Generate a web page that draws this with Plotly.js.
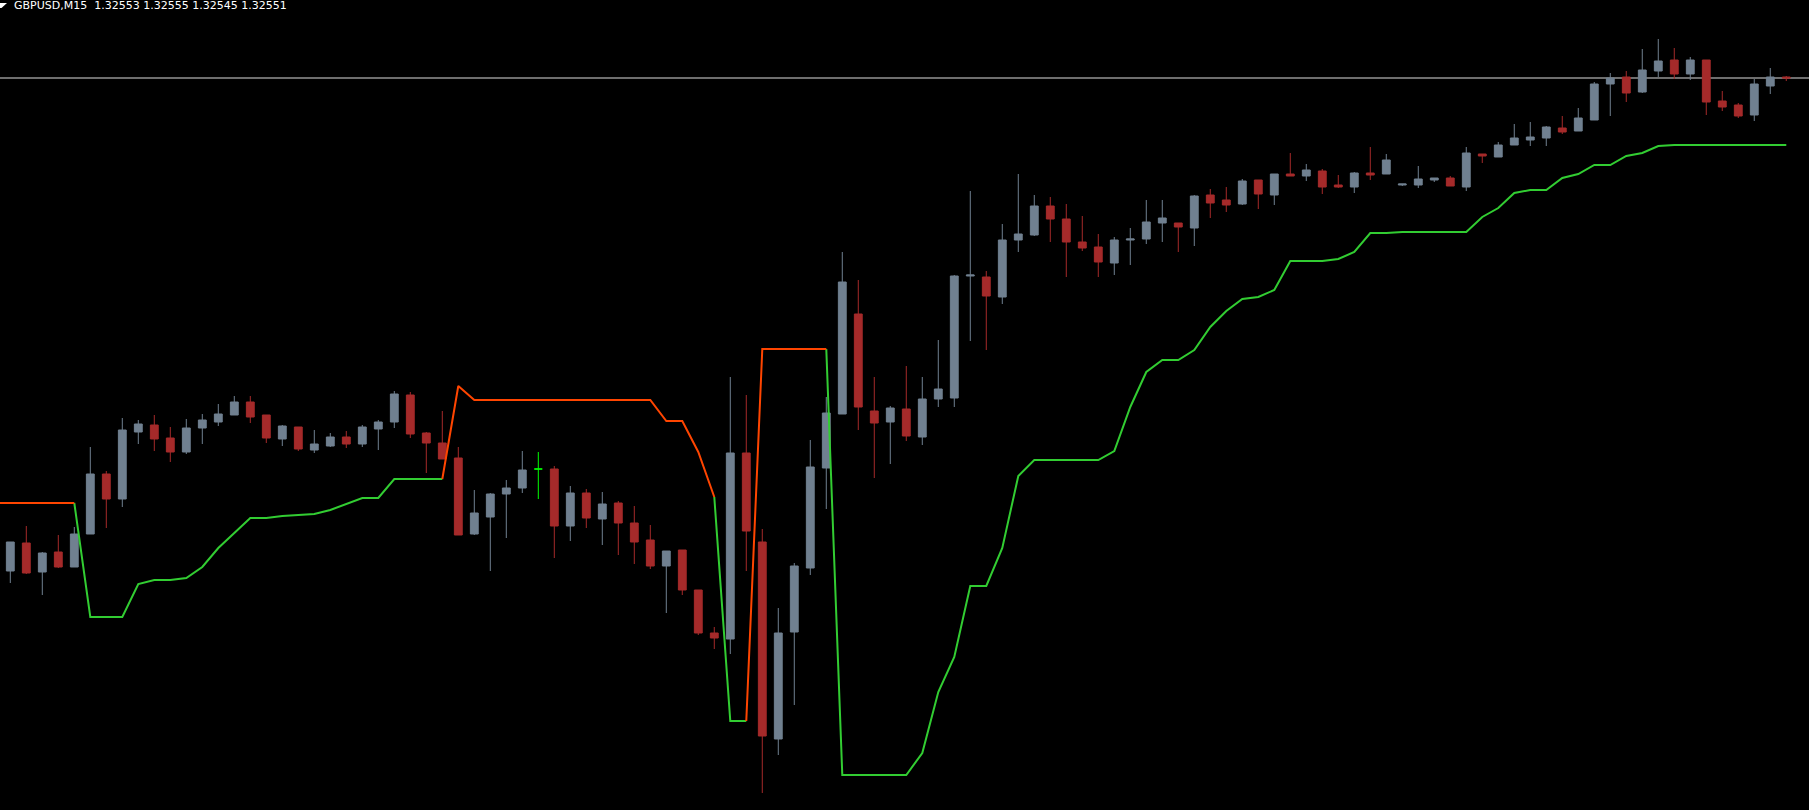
<!DOCTYPE html>
<html>
<head>
<meta charset="utf-8">
<script src="https://cdn.plot.ly/plotly-3.0.1.min.js"></script>
<style>
html,body{margin:0;padding:0;background:#000;overflow:hidden}
#chart{width:1809px;height:810px}
</style>
</head>
<body>
<div id="chart"></div>
<script>
const symbol = "GBPUSD";
const timeframe = "M15";

const open = [1.31565,1.31621,1.31563,1.31603,1.31573,1.31639,1.31759,1.31709,1.31843,1.31857,
1.31831,1.31803,1.31851,1.31863,1.31877,1.31903,1.31877,1.31829,1.31853,1.31807,
1.31815,1.31833,1.31819,1.31849,1.31863,1.31917,1.31841,1.31821,1.31791,1.31639,
1.31673,1.31719,1.31731,1.31769,1.31769,1.31655,1.31721,1.31669,1.31701,1.31661,
1.31627,1.31575,1.31607,1.31527,1.31441,1.31429,1.31801,1.31623,1.31229,1.31443,
1.31571,1.31771,1.31879,1.32079,1.31885,1.31863,1.31889,1.31833,1.31909,1.31911,
1.32155,1.32153,1.32113,1.32227,1.32237,1.32295,1.32269,1.32223,1.32213,1.32181,
1.32227,1.32229,1.32261,1.32261,1.32251,1.32317,1.32307,1.32299,1.32347,1.32317,
1.32359,1.32355,1.32365,1.32337,1.32333,1.32361,1.32359,1.32337,1.32337,1.32347,
1.32351,1.32333,1.32399,1.32393,1.32417,1.32427,1.32431,1.32451,1.32445,1.32467,
1.32539,1.32553,1.32523,1.32565,1.32587,1.32559,1.32587,1.32505,1.32497,1.32477,
1.32535,1.32553];

const high = [1.31623,1.31655,1.31603,1.31637,1.31653,1.31813,1.31765,1.31871,1.31867,1.31877,
1.31853,1.31869,1.31879,1.31899,1.31915,1.31915,1.31877,1.31857,1.31853,1.31847,
1.31841,1.31845,1.31857,1.31867,1.31925,1.31923,1.31843,1.31885,1.31813,1.31727,
1.31721,1.31747,1.31805,1.31803,1.31775,1.31735,1.31729,1.31723,1.31705,1.31695,
1.31657,1.31605,1.31607,1.31527,1.31453,1.31953,1.31917,1.31649,1.31491,1.31581,
1.31827,1.31913,1.32203,1.32147,1.31953,1.31895,1.31975,1.31953,1.32027,1.32157,
1.32325,1.32165,1.32259,1.32359,1.32317,1.32313,1.32299,1.32275,1.32239,1.32233,
1.32251,1.32307,1.32307,1.32261,1.32317,1.32329,1.32333,1.32349,1.32347,1.32359,
1.32401,1.32379,1.32369,1.32357,1.32363,1.32413,1.32399,1.32339,1.32375,1.32351,
1.32355,1.32413,1.32399,1.32423,1.32459,1.32463,1.32455,1.32475,1.32491,1.32543,
1.32561,1.32565,1.32609,1.32629,1.32611,1.32593,1.32587,1.32525,1.32501,1.32549,
1.32571,1.32555];

const low = [1.31541,1.31559,1.31517,1.31571,1.31573,1.31639,1.31651,1.31693,1.31819,1.31805,
1.31783,1.31799,1.31819,1.31855,1.31877,1.31861,1.31821,1.31815,1.31805,1.31801,
1.31813,1.31811,1.31813,1.31807,1.31851,1.31831,1.31761,1.31789,1.31637,1.31637,
1.31565,1.31631,1.31721,1.31709,1.31591,1.31625,1.31651,1.31617,1.31597,1.31579,
1.31569,1.31481,1.31517,1.31437,1.31409,1.31399,1.31565,1.31121,1.31197,1.31297,
1.31557,1.31689,1.31879,1.31847,1.31751,1.31779,1.31825,1.31817,1.31893,1.31893,
1.32025,1.32007,1.32099,1.32203,1.32235,1.32223,1.32153,1.32205,1.32153,1.32157,
1.32177,1.32219,1.32223,1.32203,1.32215,1.32271,1.32283,1.32297,1.32289,1.32297,
1.32355,1.32345,1.32319,1.32331,1.32321,1.32347,1.32359,1.32335,1.32331,1.32343,
1.32335,1.32325,1.32381,1.32393,1.32417,1.32415,1.32415,1.32439,1.32445,1.32467,
1.32475,1.32503,1.32521,1.32553,1.32549,1.32547,1.32477,1.32485,1.32471,1.32465,
1.32519,1.32545];

const close = [1.31623,1.31561,1.31601,1.31573,1.31639,1.31759,1.31709,1.31847,1.31859,1.31829,
1.31803,1.31851,1.31867,1.31879,1.31903,1.31873,1.31831,1.31855,1.31809,1.31819,
1.31833,1.31819,1.31853,1.31863,1.31919,1.31839,1.31821,1.31789,1.31637,1.31681,
1.31719,1.31731,1.31767,1.31769,1.31655,1.31721,1.31671,1.31699,1.31661,1.31623,
1.31575,1.31605,1.31527,1.31441,1.31431,1.31801,1.31645,1.31235,1.31441,1.31575,
1.31773,1.31881,1.32143,1.31893,1.31861,1.31891,1.31835,1.31909,1.31929,1.32155,
1.32157,1.32115,1.32227,1.32239,1.32295,1.32269,1.32223,1.32211,1.32183,1.32227,
1.32229,1.32263,1.32271,1.32253,1.32315,1.32301,1.32297,1.32345,1.32319,1.32359,
1.32355,1.32367,1.32333,1.32333,1.32361,1.32357,1.32387,1.32339,1.32349,1.32351,
1.32335,1.32401,1.32395,1.32417,1.32431,1.32433,1.32453,1.32443,1.32471,1.32539,
1.32551,1.32521,1.32567,1.32585,1.32559,1.32587,1.32503,1.32493,1.32475,1.32539,
1.32553,1.32551];

// Trailing stop line: up-trend buffer (green) and down-trend buffer (orange)
const trendUp = [null,null,null,null,1.31701,1.31473,1.31473,1.31473,1.31539,1.31547,
1.31547,1.31551,1.31573,1.31611,1.31641,1.31671,1.31671,1.31675,1.31677,1.31679,
1.31687,1.31699,1.31711,1.31711,1.31749,1.31749,1.31749,1.31749,null,null,
null,null,null,null,null,null,null,null,null,null,
null,null,null,null,1.31713,1.31265,1.31265,null,null,null,
null,1.32009,1.31157,1.31157,1.31157,1.31157,1.31157,1.31201,1.31323,1.31393,
1.31535,1.31535,1.31611,1.31755,1.31787,1.31787,1.31787,1.31787,1.31787,1.31805,
1.31893,1.31963,1.31987,1.31987,1.32007,1.32053,1.32085,1.32109,1.32113,1.32127,
1.32185,1.32185,1.32185,1.32189,1.32203,1.32241,1.32241,1.32243,1.32243,1.32243,
1.32243,1.32243,1.32273,1.32291,1.32321,1.32327,1.32327,1.32351,1.32359,1.32377,
1.32377,1.32395,1.32401,1.32415,1.32417,1.32417,1.32417,1.32417,1.32417,1.32417,
1.32417,1.32417];

const trendDown = [1.31701,1.31701,1.31701,1.31701,1.31701,null,null,null,null,null,
null,null,null,null,null,null,null,null,null,null,
null,null,null,null,null,null,null,1.31749,1.31935,1.31907,
1.31907,1.31907,1.31907,1.31907,1.31907,1.31907,1.31907,1.31907,1.31907,1.31907,
1.31907,1.31865,1.31865,1.31803,1.31713,null,1.31265,1.32009,1.32009,1.32009,
1.32009,1.32009,null,null,null,null,null,null,null,null,
null,null,null,null,null,null,null,null,null,null,
null,null,null,null,null,null,null,null,null,null,
null,null,null,null,null,null,null,null,null,null,
null,null,null,null,null,null,null,null,null,null,
null,null,null,null,null,null,null,null,null,null,
null,null];

const n = close.length;
const idx = open.map((_, i) => i);

// split regular candles and exact dojis (drawn in line colour like MT4)
function pick(arr, keepDoji) {
  return arr.map((v, i) => ((open[i] === close[i]) === keepDoji ? v : null));
}

const BULL = '#708090';
const BEAR = '#A52A2A';
const DOJI = '#00FF00';

// the down-trend line was already running before the first visible bar
const downX = idx.slice();
const downY = trendDown.slice();
downX.unshift(-1);
downY.unshift(trendDown[0]);

const traces = [
  {
    type: 'candlestick',
    x: idx,
    open: pick(open, false), high: pick(high, false), low: pick(low, false), close: pick(close, false),
    increasing: {line: {color: BULL, width: 1}, fillcolor: BULL},
    decreasing: {line: {color: BEAR, width: 1}, fillcolor: BEAR},
    whiskerwidth: 0,
    hoverinfo: 'skip',
    showlegend: false
  },
  {
    type: 'candlestick',
    x: idx,
    open: pick(open, true), high: pick(high, true), low: pick(low, true), close: pick(close, true),
    increasing: {line: {color: DOJI, width: 1}, fillcolor: DOJI},
    decreasing: {line: {color: DOJI, width: 1}, fillcolor: DOJI},
    whiskerwidth: 0,
    hoverinfo: 'skip',
    showlegend: false
  },
  {
    type: 'scatter', mode: 'lines', x: idx, y: trendUp,
    line: {color: '#32CD32', width: 2}, connectgaps: false,
    hoverinfo: 'skip', showlegend: false
  },
  {
    type: 'scatter', mode: 'lines', x: downX, y: downY,
    line: {color: '#FF4500', width: 2}, connectgaps: false,
    hoverinfo: 'skip', showlegend: false
  }
];

const fmt = v => v.toFixed(5);
const titleText = symbol + ',' + timeframe + '\u00a0 ' +
  fmt(open[n-1]) + ' ' + fmt(high[n-1]) + ' ' + fmt(low[n-1]) + ' ' + fmt(close[n-1]);

const layout = {
  width: 1809, height: 810,
  margin: {l: 0, r: 0, t: 0, b: 0, pad: 0},
  paper_bgcolor: '#000000',
  plot_bgcolor: '#000000',
  showlegend: false,
  hovermode: false,
  xaxis: {
    range: [-0.644, 112.42],
    visible: false, showgrid: false, zeroline: false,
    rangeslider: {visible: false}, fixedrange: true
  },
  yaxis: {
    range: [1.31087, 1.32707],
    visible: false, showgrid: false, zeroline: false, fixedrange: true
  },
  shapes: [
    {
      type: 'line', xref: 'paper', x0: 0, x1: 1, yref: 'y',
      y0: close[n-1], y1: close[n-1],
      line: {color: '#DCDCDC', width: 1}, layer: 'below'
    },
    {
      type: 'path', xref: 'paper', yref: 'paper',
      path: 'M 0 ' + (1 - 3/810) + ' L ' + (7/1809) + ' ' + (1 - 3/810) +
            ' L ' + (1.5/1809) + ' ' + (1 - 8/810) + ' L 0 ' + (1 - 8/810) + ' Z',
      fillcolor: '#FFFFFF', line: {width: 0}
    }
  ],
  annotations: [
    {
      xref: 'paper', yref: 'paper', x: 12.5/1809, y: 1,
      xanchor: 'left', yanchor: 'top', yshift: 2,
      text: titleText, showarrow: false,
      font: {family: 'DejaVu Sans', size: 11, color: '#FFFFFF'},
      borderpad: 0
    }
  ]
};

Plotly.newPlot('chart', traces, layout, {displayModeBar: false, staticPlot: true, responsive: false});
</script>
</body>
</html>
